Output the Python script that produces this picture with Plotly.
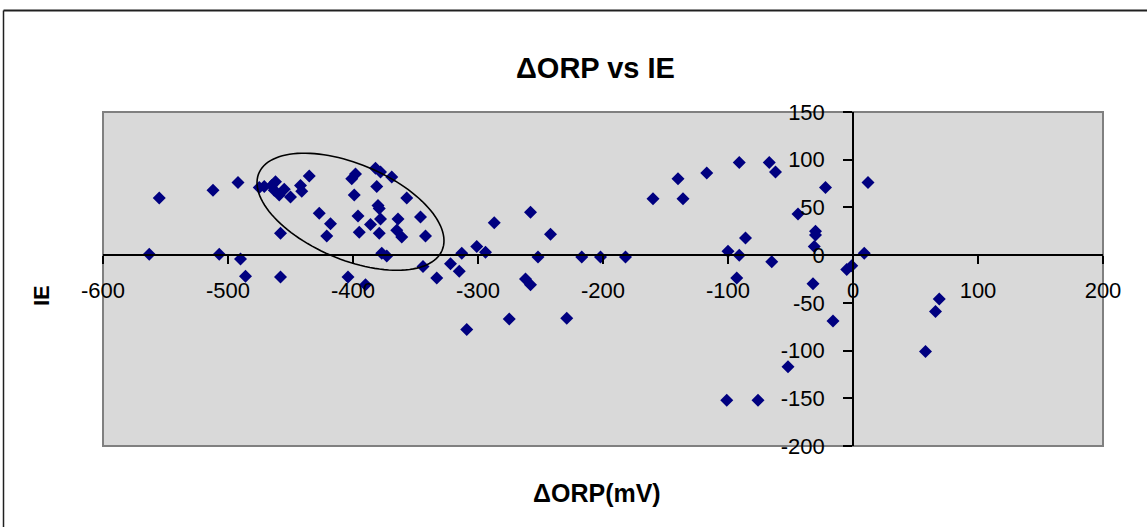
import numpy as np
import plotly.graph_objects as go

# ---- data ----
orp_mv = [-563, -555, -512, -507, -492, -490, -486,
          -475, -471, -465, -462, -463, -459, -455, -450, -442, -441, -435,
          -458, -458, -427, -418, -421, -404,
          -401, -398, -399, -396, -395, -390, -386, -382, -378, -381, -380,
          -379, -378, -379, -377, -373, -369, -364, -365, -361, -357, -346,
          -342, -344, -333, -322, -315, -313, -309, -301, -294, -287, -275,
          -262, -258, -258, -252, -242, -229, -217, -202, -182,
          -160, -140, -136, -117, -100, -101, -91, -91, -93, -86, -76,
          -67, -62, -65, -52, -44, -30, -30, -31, -32, -22, -16,
          -5, -1, 9, 12, 58, 66, 69]
ie = [1, 60, 68, 1, 76, -4, -22,
      71, 72, 73, 77, 68, 63, 69, 61, 73, 67, 83,
      23, -23, 44, 33, 20, -23,
      80, 85, 63, 41, 24, -31, 32, 91, 87, 72, 52,
      49, 38, 23, 2, -1, 82, 38, 26, 19, 60, 40,
      20, -12, -24, -9, -17, 2, -78, 9, 3, 34, -67,
      -25, -31, 45, -2, 22, -66, -2, -2, -2,
      59, 80, 59, 86, 4, -152, 97, 0, -24, 18, -152,
      97, 87, -7, -117, 43, 25, 21, 9, -30, 71, -69,
      -15, -11, 2, 76, -101, -59, -46]

x_ticks = [-600, -500, -400, -300, -200, -100, 0, 100, 200]
x_tick_labels = ["-600", "-500", "-400", "-300", "-200", "-100", "0", "100", "200"]
y_ticks = [-200, -150, -100, -50, 0, 50, 100, 150]
y_tick_labels = ["-200", "-150", "-100", "-50", "0", "50", "100", "150"]

X_RANGE = [-600, 200]
Y_RANGE = [-200, 150]

W, H = 1147, 527
ML, MR, MT, MB = 103, 44, 112, 81
plot_w = W - ML - MR
plot_h = H - MT - MB

FONT = "Liberation Sans, Arial, sans-serif"

fig = go.Figure()
fig.add_trace(go.Scatter(
    x=orp_mv, y=ie, mode="markers",
    marker=dict(symbol="diamond", size=10, color="#000080", line=dict(width=0)),
    hoverinfo="x+y", showlegend=False,
))

# ---- hand-drawn ellipse highlighting the cluster (in pixel units, rotated) ----
sx = plot_w / (X_RANGE[1] - X_RANGE[0])
sy = plot_h / (Y_RANGE[1] - Y_RANGE[0])
cx, cy = -402, 45.5          # centre in data units
a_px, b_px, theta = 99.4, 47.8, np.deg2rad(22.8)
t = np.linspace(0, 2 * np.pi, 120)
ex = a_px * np.cos(t) * np.cos(theta) - b_px * np.sin(t) * np.sin(theta)
ey = a_px * np.cos(t) * np.sin(theta) + b_px * np.sin(t) * np.cos(theta)  # screen down
xd = cx + ex / sx
yd = cy - ey / sy
path = "M " + " L ".join(f"{px:.3f},{py:.3f}" for px, py in zip(xd, yd)) + " Z"

shapes = [
    dict(type="rect", xref="paper", yref="paper", x0=0, y0=0, x1=1, y1=1,
         line=dict(color="#808080", width=2), fillcolor="rgba(0,0,0,0)", layer="below"),
    dict(type="path", xref="x", yref="y", path=path,
         line=dict(color="black", width=1.6)),
    # outer chart-area border
    dict(type="line", xref="paper", yref="paper",
         x0=(3.5 - ML) / plot_w, x1=(W + 5 - ML) / plot_w,
         y0=(H - MB - 10.5) / plot_h, y1=(H - MB - 10.5) / plot_h,
         line=dict(color="#202020", width=2)),
    dict(type="line", xref="paper", yref="paper",
         x0=(3.5 - ML) / plot_w, x1=(3.5 - ML) / plot_w,
         y0=(H - MB - 10.5) / plot_h, y1=(H - MB - H - 10) / plot_h,
         line=dict(color="#202020", width=1.5)),
]

annotations = [
    dict(text="<b>ΔORP vs IE</b>", x=595, y=H - 68, xref="paper", yref="paper",
         showarrow=False, font=dict(family=FONT, size=29, color="black"),
         xanchor="center", yanchor="middle"),
    dict(text="<b>ΔORP(mV)</b>", x=597, y=H - 493, xref="paper", yref="paper",
         showarrow=False, font=dict(family=FONT, size=25, color="black"),
         xanchor="center", yanchor="middle"),
    dict(text="<b>IE</b>", x=41, y=H - 296, xref="paper", yref="paper",
         showarrow=False, font=dict(family=FONT, size=22, color="black"),
         textangle=-90, xanchor="center", yanchor="middle"),
]
# convert pixel-based annotation coordinates to paper
for an in annotations:
    an["x"] = (an["x"] - ML) / plot_w
    an["y"] = (an["y"] - MB) / plot_h

fig.update_layout(
    width=W, height=H,
    margin=dict(l=ML, r=MR, t=MT, b=MB, pad=0),
    paper_bgcolor="white", plot_bgcolor="#d9d9d9",
    shapes=shapes, annotations=annotations,
    xaxis=dict(range=X_RANGE, tickvals=x_ticks, ticktext=x_tick_labels,
               anchor="free", position=(0 - Y_RANGE[0]) / (Y_RANGE[1] - Y_RANGE[0]),
               showline=True, linecolor="black", linewidth=1.5,
               ticks="outside", ticklen=8, tickwidth=1.5, tickcolor="black",
               showgrid=False, zeroline=False, ticklabelstandoff=8,
               tickfont=dict(family=FONT, size=22, color="black")),
    yaxis=dict(range=Y_RANGE, tickvals=y_ticks, ticktext=y_tick_labels,
               anchor="free", position=(0 - X_RANGE[0]) / (X_RANGE[1] - X_RANGE[0]),
               showline=True, linecolor="black", linewidth=1.5,
               ticks="outside", ticklen=9, tickwidth=1.5, tickcolor="black",
               showgrid=False, zeroline=False, ticklabelstandoff=14,
               tickfont=dict(family=FONT, size=22, color="black")),
)

fig.write_html("out.html")
